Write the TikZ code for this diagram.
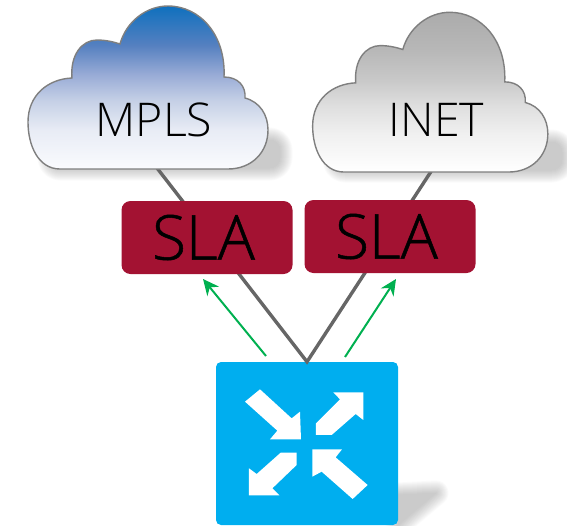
\documentclass[tikz,border=0pt]{standalone}
\usepackage{fontspec}
\setmainfont{Open Sans Light}
\newfontfamily\slafont[FakeBold=0.8]{Open Sans Light}
\usetikzlibrary{arrows.meta}
\definecolor{slared}{HTML}{A31232}
\definecolor{hubblue}{HTML}{00AEEF}
\definecolor{arrowgreen}{HTML}{00B050}
\definecolor{wiregray}{HTML}{666666}
\definecolor{rimgray}{HTML}{7F7F7F}
\definecolor{mplsa}{HTML}{0F70BE}
\definecolor{mplsb}{HTML}{5580C0}
\definecolor{mplsc}{HTML}{98ABD6}
\definecolor{mplsd}{HTML}{C5D0E6}
\definecolor{mplse}{HTML}{E8ECF5}
\definecolor{mplsf}{HTML}{FAFBFE}
\definecolor{ineta}{HTML}{ABABAB}
\definecolor{inetb}{HTML}{B8B8B8}
\definecolor{inetc}{HTML}{C8C8C8}
\definecolor{inetd}{HTML}{DEDEDE}
\definecolor{inete}{HTML}{F0F0F0}
\definecolor{inetf}{HTML}{FFFFFF}
\pgfdeclareverticalshading{mplsfill}{100bp}{
    color(0bp)=(mplsf); color(25bp)=(mplsf); color(37bp)=(mplse); color(46bp)=(mplsd);
    color(54bp)=(mplsc); color(63bp)=(mplsb); color(75bp)=(mplsa); color(100bp)=(mplsa)}
\pgfdeclareverticalshading{inetfill}{100bp}{
    color(0bp)=(inetf); color(25bp)=(inetf); color(37bp)=(inete); color(46bp)=(inetd);
    color(54bp)=(inetc); color(63bp)=(inetb); color(75bp)=(ineta); color(100bp)=(ineta)}
\tikzset{
    > = {Stealth[length=16pt, width=15pt]},
    wire/.style = {wiregray, line width=3.4pt},
    uplink/.style = {->, arrowgreen, line width=2pt},
    slabox/.style = {rectangle, rounded corners=9pt, fill=slared, minimum width=171pt,
        minimum height=73pt, inner sep=0pt, font=\slafont\fontsize{62}{62}\selectfont},
    cloudtext/.style = {inner sep=0pt, font=\fontsize{46.5}{46.5}\selectfont},
    cloudrim/.style = {draw=rimgray, line width=1.4pt},
    softshadow/.style = {transparency group, opacity=0.04},
    shadowpart/.style = {draw=gray, fill=gray, line join=round}
}
\newcommand{\cloudpath}{
    (60,169) .. controls (38,169) and (28,145) .. (28,122)
    .. controls (28,95) and (48,79) .. (72,78)
    .. controls (70,55) and (82,40) .. (97,40)
    .. controls (106,40) and (114,42) .. (120,44)
    .. controls (126,22) and (146,6) .. (168,6)
    .. controls (200,6) and (226,35) .. (224,77)
    .. controls (238,77) and (246,86) .. (245,98)
    .. controls (260,102) and (268,115) .. (268,130)
    .. controls (268,152) and (252,169) .. (228,169) -- cycle
}
\begin{document}
\begin{tikzpicture}[x=1pt, y=-1pt]
    \useasboundingbox (0,0) rectangle (567,525);
    \clip (0,0) rectangle (567,525);

    % shadows
    \foreach \w in {1,3,...,25} {
        \begin{scope}[softshadow]
            \draw[shadowpart, line width=\w pt, rounded corners=10pt] (50,140) rectangle (280,168);
            \draw[shadowpart, line width=\w pt, rounded corners=10pt] (335,142) rectangle (562,170);
            \draw[shadowpart, line width=\w pt] (398,495) -- (436,493) -- (398,525) -- cycle;
        \end{scope}
    }

    % wires
    \node[rectangle, rounded corners=5pt, fill=hubblue, minimum width=182pt, minimum height=163pt, inner sep=0pt] (hub) at (307,443.5) {};
    \coordinate (mplsfoot) at (157,168);
    \coordinate (inetfoot) at (432,170);
    \draw[wire] (mplsfoot) -- (hub.north) -- (inetfoot);

    % clouds
    \shade[shading=mplsfill, cloudrim] \cloudpath;
    \shade[shading=inetfill, cloudrim, shift={(285.2,6.4)}, scale=0.98] \cloudpath;
    \node[cloudtext] (mpls) at (154,120) {MPLS};
    \node[cloudtext] (inet) at (436.5,120) {INET};

    % sla
    \node[slabox] (sla1) at (207,237.5) {SLA\kern7pt};
    \node[slabox] (sla2) at (390,236.5) {SLA\kern7pt};

    % uplinks
    \coordinate (up1a) at (266,356);
    \coordinate (up1b) at (203,279);
    \coordinate (up2a) at (345,357);
    \coordinate (up2b) at (396,279);
    \draw[uplink] (up1a) -- (up1b);
    \draw[uplink] (up2a) -- (up2b);

    % hub arrows
    \begin{scope}[shift={(190,340)}, x=0.3333pt, y=-0.3333pt]
        \fill[white] (165,185) -- (210,148) -- (305,235) -- (330,215) -- (333,298) -- (240,298) -- (262,272) -- cycle;
        \fill[white] (378,285) -- (425,285) -- (497,222) -- (520,240) -- (520,157) -- (430,157) -- (450,178) -- (378,250) -- cycle;
        \fill[white] (320,338) -- (272,338) -- (200,402) -- (177,385) -- (177,466) -- (268,466) -- (247,445) -- (320,375) -- cycle;
        \fill[white] (533,435) -- (488,477) -- (395,395) -- (367,410) -- (367,328) -- (456,328) -- (437,352) -- cycle;
    \end{scope}
\end{tikzpicture}
\end{document}
